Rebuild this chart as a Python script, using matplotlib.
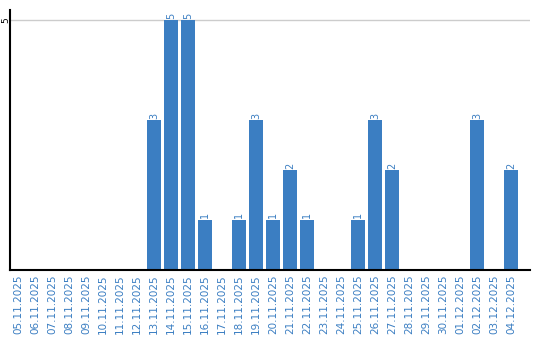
import matplotlib.pyplot as plt
import matplotlib.transforms as mtransforms

dates = ['05.11.2025', '06.11.2025', '07.11.2025', '08.11.2025', '09.11.2025',
         '10.11.2025', '11.11.2025', '12.11.2025', '13.11.2025', '14.11.2025',
         '15.11.2025', '16.11.2025', '17.11.2025', '18.11.2025', '19.11.2025',
         '20.11.2025', '21.11.2025', '22.11.2025', '23.11.2025', '24.11.2025',
         '25.11.2025', '26.11.2025', '27.11.2025', '28.11.2025', '29.11.2025',
         '30.11.2025', '01.12.2025', '02.12.2025', '03.12.2025', '04.12.2025']
counts = [0, 0, 0, 0, 0, 0, 0, 0, 3, 5,
          5, 1, 0, 1, 3, 1, 2, 1, 0, 0,
          1, 3, 2, 0, 0, 0, 0, 3, 0, 2]
y_ticks = [5]

bar_color = '#3b7ec2'

fig = plt.figure(figsize=(5.4, 3.4), dpi=100)
ax = fig.add_axes([10 / 540, 70 / 340, 520 / 540, 260 / 340])

x = list(range(len(dates)))
ax.bar(x, counts, width=0.82, color=bar_color, zorder=2)
for xi, c in zip(x, counts):
    if c > 0:
        ax.text(xi, c + 0.03, str(c), rotation=90, ha='center', va='bottom',
                fontsize=7, color=bar_color)

ax.set_xlim(-0.47, 30.1)
ax.set_ylim(0, 5.2)
for yt in y_ticks:
    ax.axhline(yt, color='#cccccc', lw=1, zorder=1)

ax.set_xticks(x)
ax.set_xticklabels(dates, rotation=90, fontsize=7.5, color=bar_color)
ax.tick_params(axis='x', length=0, pad=3)

# y labels placed just left of the axis, inside the figure
ax.set_yticks([])
trans = mtransforms.blended_transform_factory(fig.transFigure, ax.transData)
for yt in y_ticks:
    ax.text(5.5 / 540, yt, str(yt), transform=trans, rotation=90,
            ha='center', va='center', fontsize=6.5, clip_on=False)

for side in ['top', 'right']:
    ax.spines[side].set_visible(False)
for side in ['left', 'bottom']:
    ax.spines[side].set_linewidth(1.5)
    ax.spines[side].set_color('black')

fig.savefig('out.png', dpi=100)
